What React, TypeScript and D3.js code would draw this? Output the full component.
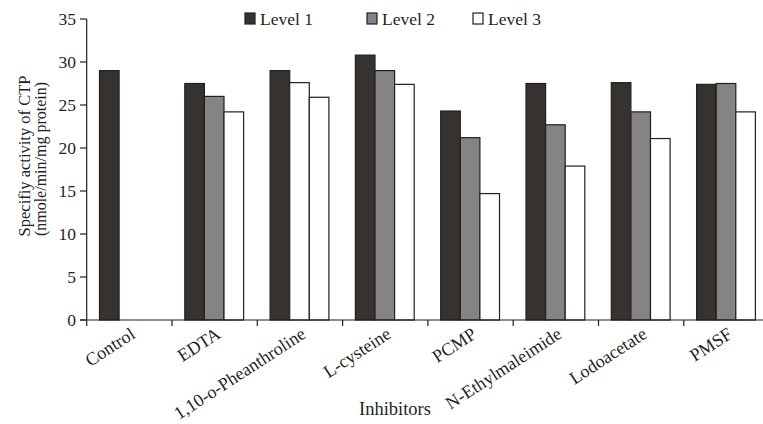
import React from "react";
import * as d3 from "d3";

const categories = [
  "Control",
  "EDTA",
  "1,10-o-Pheanthroline",
  "L-cysteine",
  "PCMP",
  "N-Ethylmaleimide",
  "Lodoacetate",
  "PMSF",
];
const levels = ["Level 1", "Level 2", "Level 3"];
const level1 = [29.0, 27.5, 29.0, 30.8, 24.3, 27.5, 27.6, 27.4];
const level2 = [null, 26.0, 27.6, 29.0, 21.2, 22.7, 24.2, 27.5];
const level3 = [null, 24.2, 25.9, 27.4, 14.7, 17.9, 21.1, 24.2];
const yTicks = [0, 5, 10, 15, 20, 25, 30, 35];

const W = 763;
const H = 424;
const FONT = "'Liberation Serif', 'Times New Roman', serif";
const colors = ["#36322f", "#858484", "#ffffff"];
const STROKE = "#231f20";

export default function App() {
  const series = [level1, level2, level3];
  const x0 = d3.scaleBand<string>().domain(categories).range([86.7, 769.1]).padding(0);
  const x1 = d3
    .scaleBand<string>()
    .domain(levels)
    .range([12.8, 12.8 + 58.8])
    .padding(0);
  const y = d3.scaleLinear().domain([0, 35]).range([320, 19]);
  const bw = x1.bandwidth();

  const boundaries = categories.map((c) => x0(c) as number);
  boundaries.push(x0.range()[1]);

  return (
    <svg
      width={W}
      height={H}
      style={{ position: "absolute", left: 0, top: 0, background: "#fff" }}
      fontFamily={FONT}
    >
      {/* bars */}
      {categories.map((c, ci) =>
        series.map((s, si) => {
          const v = s[ci];
          if (v == null) return null;
          const xx = (x0(c) as number) + (x1(levels[si]) as number);
          const fill = ci === 2 && si === 1 ? "#ffffff" : colors[si];
          return (
            <rect
              key={c + si}
              x={xx}
              y={y(v)}
              width={bw}
              height={y(0) - y(v)}
              fill={fill}
              stroke={STROKE}
              strokeWidth={1.2}
            />
          );
        })
      )}

      {/* y axis */}
      <line x1={86.7} x2={86.7} y1={y(35)} y2={y(0)} stroke={STROKE} strokeWidth={1.2} />
      {yTicks.map((t) => (
        <g key={t}>
          <line x1={80} x2={86.7} y1={y(t)} y2={y(t)} stroke={STROKE} strokeWidth={1.2} />
          <text
            x={76}
            y={y(t)}
            dy="0.35em"
            textAnchor="end"
            fontSize={17.5}
            fill="#231f20"
          >
            {t}
          </text>
        </g>
      ))}

      {/* x axis */}
      <line x1={80} x2={x0.range()[1]} y1={y(0)} y2={y(0)} stroke={STROKE} strokeWidth={1.2} />
      {boundaries.map((b, i) => (
        <line key={i} x1={b} x2={b} y1={y(0)} y2={y(0) + 6} stroke={STROKE} strokeWidth={1.2} />
      ))}
      {categories.map((c) => {
        const cx = (x0(c) as number) + x0.bandwidth() / 2 + 7;
        const cy = 337;
        return (
          <text
            key={c}
            x={cx}
            y={cy}
            textAnchor="end"
            fontSize={18}
            fill="#231f20"
            transform={`rotate(-33, ${cx}, ${cy})`}
          >
            {c}
          </text>
        );
      })}

      {/* axis titles */}
      <text x={395} y={415} textAnchor="middle" fontSize={18.5} fill="#231f20">
        Inhibitors
      </text>
      <text
        x={0}
        y={0}
        textAnchor="middle"
        fontSize={16.5}
        fill="#231f20"
        transform="translate(30,156) rotate(-90)"
      >
        Specifiy activity of CTP
      </text>
      <text
        x={0}
        y={0}
        textAnchor="middle"
        fontSize={16}
        fill="#231f20"
        transform="translate(46,159) rotate(-90)"
      >
        (nmole/min/mg protein)
      </text>

      {/* legend */}
      {levels.map((l, i) => {
        const lx = [245, 367, 473][i];
        return (
          <g key={l}>
            <rect
              x={lx}
              y={13}
              width={10}
              height={11}
              fill={colors[i]}
              stroke={STROKE}
              strokeWidth={1.2}
            />
            <text x={lx + 15} y={25} fontSize={17.5} fill="#231f20">
              {l}
            </text>
          </g>
        );
      })}
    </svg>
  );
}
